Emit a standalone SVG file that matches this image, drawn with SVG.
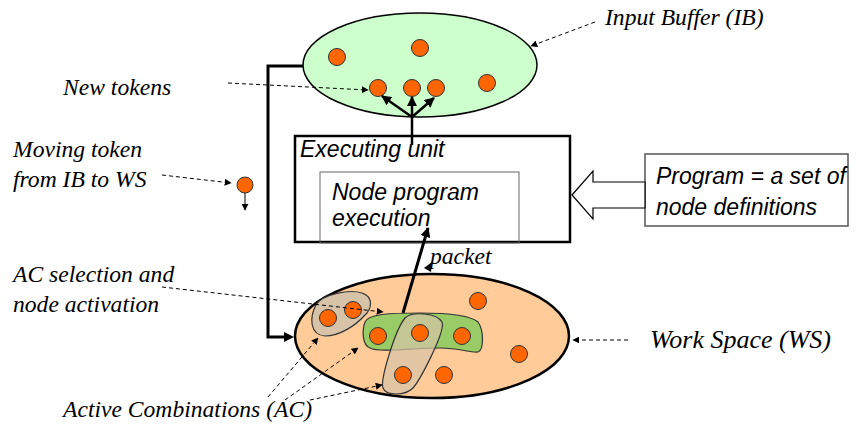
<svg xmlns="http://www.w3.org/2000/svg" width="867" height="426" viewBox="0 0 867 426">
  <defs>
    <marker id="ah" viewBox="0 0 10 10" refX="9" refY="5" markerWidth="7" markerHeight="7" markerUnits="userSpaceOnUse" orient="auto">
      <path d="M0,0 L10,5 L0,10 Z" fill="#000"/>
    </marker>
    <marker id="ahb" viewBox="0 0 10 10" refX="9" refY="5" markerWidth="10" markerHeight="10" markerUnits="userSpaceOnUse" orient="auto">
      <path d="M0,0 L10,5 L0,10 Z" fill="#000"/>
    </marker>
  </defs>
  <style>
    .tok { fill: #FF6600; stroke: #333; stroke-width: 1; }
    .lbl { font-family: "Liberation Serif", "Times New Roman", serif; font-style: italic; font-size: 23.6px; fill: #000; }
    .sans { font-family: "Liberation Sans", Arial, sans-serif; font-style: italic; font-size: 23px; fill: #000; }
    .dash { fill: none; stroke: #000; stroke-width: 1; stroke-dasharray: 4 3; marker-end: url(#ah); }
    .thick { fill: none; stroke: #000; stroke-width: 3; }
  </style>
  <rect width="867" height="426" fill="#fff"/>

  <!-- Input buffer -->
  <g id="input-buffer">
    <ellipse cx="420" cy="65" rx="117" ry="52" fill="#CCFFCC" stroke="#000" stroke-width="1.5"/>
    <circle class="tok" cx="337" cy="57" r="8.5"/>
    <circle class="tok" cx="420" cy="48" r="8.5"/>
    <circle class="tok" cx="378" cy="88" r="8.5"/>
    <circle class="tok" cx="412" cy="88" r="8.5"/>
    <circle class="tok" cx="436" cy="88" r="8.5"/>
    <circle class="tok" cx="487" cy="83" r="8.5"/>
  </g>

  <!-- Executing unit -->
  <g id="executing-unit">
    <rect x="295" y="136" width="275" height="106" fill="#fff" stroke="#000" stroke-width="2.5"/>
    <text class="sans" x="300" y="157">Executing unit</text>
  </g>
  <g id="node-program">
    <rect x="320" y="172" width="199" height="71" fill="none" stroke="#666" stroke-width="1"/>
    <text class="sans" x="332" y="200">Node program</text>
    <text class="sans" x="332" y="226">execution</text>
  </g>

  <!-- Program definitions -->
  <g id="program">
    <rect x="645" y="154" width="203" height="72" fill="#fff" stroke="#555" stroke-width="1.5"/>
    <text class="sans" x="656" y="184">Program = a set of</text>
    <text class="sans" x="656" y="215">node definitions</text>
  </g>

  <!-- Work space -->
  <g id="work-space">
    <ellipse cx="432" cy="336" rx="137" ry="62" fill="#FFCC99" stroke="#000" stroke-width="2.5"/>
    <path d="M316,305 C322,294 350,289 362,293 C374,297 372,309 364,316 C356,325 340,336 325,336 C310,335 309,318 316,305 Z" fill="#D6C3A8" stroke="#333" stroke-width="1.2"/>
    <path d="M365,322 C368,314 390,313 420,313 C450,313 470,315 478,322 C484,330 484,350 478,352 C470,353 460,348 440,348 C410,348 380,353 370,348 C362,345 362,330 365,322 Z" fill="#99CC66" stroke="#333" stroke-width="1.2"/>
    <path d="M405,318 C412,311 437,313 442,322 C446,331 420,380 413,388 C405,396 386,396 383,388 C380,380 395,330 405,318 Z" fill="#D6C3A8" fill-opacity="0.7" stroke="#333" stroke-width="1.2"/>
    <circle class="tok" cx="328" cy="318" r="8.5"/>
    <circle class="tok" cx="353" cy="310" r="8.5"/>
    <circle class="tok" cx="378" cy="336" r="8.5"/>
    <circle class="tok" cx="420" cy="333" r="8.5"/>
    <circle class="tok" cx="462" cy="336" r="8.5"/>
    <circle class="tok" cx="478" cy="301" r="8.5"/>
    <circle class="tok" cx="519" cy="354" r="8.5"/>
    <circle class="tok" cx="403" cy="375" r="8.5"/>
    <circle class="tok" cx="444" cy="375" r="8.5"/>
  </g>

  <!-- Moving token -->
  <g id="moving-token">
    <circle class="tok" cx="245" cy="185" r="8"/>
    <line x1="245" y1="193" x2="245" y2="210" stroke="#000" stroke-width="1" marker-end="url(#ah)"/>
  </g>

  <!-- Connectors -->
  <g id="connectors">
    <polyline class="thick" points="303,66 268,66 268,337 288,337"/>
    <path d="M284,332 L294,337 L284,342 Z" fill="#000"/>
    <line x1="412" y1="145" x2="412" y2="117" stroke="#000" stroke-width="2.5"/>
    <line x1="412" y1="117" x2="382" y2="96" stroke="#000" stroke-width="2.5" marker-end="url(#ahb)"/>
    <line x1="412" y1="117" x2="412" y2="97" stroke="#000" stroke-width="2.5" marker-end="url(#ahb)"/>
    <line x1="412" y1="117" x2="434" y2="98" stroke="#000" stroke-width="2.5" marker-end="url(#ahb)"/>
    <line x1="403" y1="313" x2="428" y2="228" stroke="#000" stroke-width="3" marker-end="url(#ahb)"/>
    <path d="M424,268 L432,262 L431,272 Z" fill="#000"/>
    <polygon points="572,195 593,171 593,182 645,182 645,208 593,208 593,219" fill="#fff" stroke="#000" stroke-width="1.2"/>
    <path class="dash" d="M595,22 L531,46"/>
    <path class="dash" d="M228,83 L368,90"/>
    <path class="dash" d="M162,175 L231,183"/>
    <path class="dash" d="M162,287 L383,312"/>
    <path class="dash" d="M628,340 L573,340"/>
    <path class="dash" d="M268,397 L318,338"/>
    <path class="dash" d="M285,400 L358,348"/>
    <path class="dash" d="M310,400 L382,385"/>
  </g>

  <!-- Labels -->
  <g id="labels">
    <text class="lbl" x="605" y="25">Input Buffer (IB)</text>
    <text class="lbl" x="63" y="95">New tokens</text>
    <text class="lbl" x="13" y="157">Moving token</text>
    <text class="lbl" x="13" y="187">from IB to WS</text>
    <text class="lbl" x="13" y="282">AC selection and</text>
    <text class="lbl" x="13" y="312">node activation</text>
    <text class="lbl" x="63" y="417">Active Combinations (AC)</text>
    <text class="lbl" x="650" y="348" style="font-size:26px">Work Space (WS)</text>
    <text class="lbl" x="430" y="264">packet</text>
  </g>
</svg>
